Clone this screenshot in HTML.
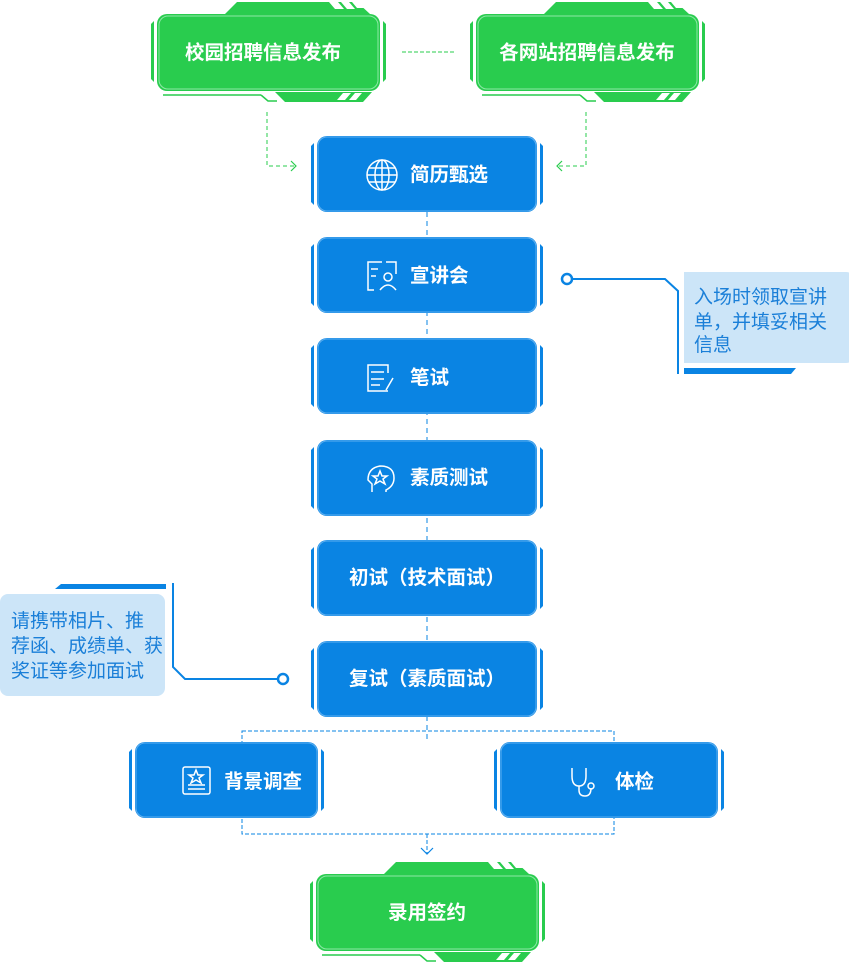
<!DOCTYPE html>
<html><head><meta charset="utf-8"><style>
html,body{margin:0;padding:0;background:#fff;}
svg{display:block;}
text{font-family:"Liberation Sans","Noto Sans CJK SC",sans-serif;}
.t{fill:#fff;font-size:19.5px;font-weight:bold;}
.c{fill:#1a7fd8;font-size:19px;}
</style></head><body>
<svg width="849" height="962" viewBox="0 0 849 962" xmlns="http://www.w3.org/2000/svg">
<defs>
<g id="gb">
 <polygon points="68,14 80,2 200,2 213,14" fill="#29cc4e"/>
 <polygon points="172,2 181,2 187,9 178,9" fill="#fff"/>
 <polygon points="184,2 192,2 198,9 190,9" fill="#fff"/>
 <polygon points="195,2 202,2 207,8 200,8" fill="#fff"/>
 <rect x="0" y="14" width="223" height="77" rx="10" fill="#29cc4e"/>
 <rect x="2" y="16" width="219" height="73" rx="9" fill="none" stroke="#8de8a6" stroke-width="1"/>
 <polygon points="-6,24 -3,21 -3,82 -6,79" fill="#29cc4e"/>
 <polygon points="229,24 226,21 226,82 229,79" fill="#29cc4e"/>
 <line x1="6" y1="95" x2="104" y2="95" stroke="#29cc4e" stroke-width="1.5"/>
 <polyline points="104,95 111,101 120,101" fill="none" stroke="#29cc4e" stroke-width="1.5"/>
 <polygon points="118,92 215,92 206,102 128,102" fill="#29cc4e"/>
 <polygon points="186,93 194,93 188,100 180,100" fill="#fff"/>
 <polygon points="198,93 205,93 199,100 192,100" fill="#fff"/>
</g>
<g id="bb">
 <rect x="0" y="0" width="220" height="76" rx="10" fill="#0a84e3"/>
 <rect x="1" y="1" width="218" height="74" rx="9" fill="none" stroke="#5fb0f0" stroke-width="1"/>
 <polygon points="-6,10 -3,7 -3,69 -6,66" fill="#0a84e3"/>
 <polygon points="226,10 223,7 223,69 226,66" fill="#0a84e3"/>
</g>
</defs>

<!-- connectors -->
<line x1="402" y1="52" x2="454" y2="52" stroke="#29cc4e" stroke-width="1" stroke-dasharray="4,2"/>
<polyline points="267,112 267,166 295,166" fill="none" stroke="#29cc4e" stroke-width="1" stroke-dasharray="4,3"/>
<polyline points="291,161 296,166 291,171" fill="none" stroke="#29cc4e" stroke-width="1.2"/>
<polyline points="586,112 586,166 558,166" fill="none" stroke="#29cc4e" stroke-width="1" stroke-dasharray="4,3"/>
<polyline points="562,161 557,166 562,171" fill="none" stroke="#29cc4e" stroke-width="1.2"/>
<line x1="427" y1="212" x2="427" y2="742" stroke="#0a84e3" stroke-width="1" stroke-dasharray="5,4"/>
<rect x="242" y="731" width="372" height="103" fill="none" stroke="#0a84e3" stroke-width="1" stroke-dasharray="4,2"/>
<line x1="427" y1="834" x2="427" y2="854" stroke="#0a84e3" stroke-width="1" stroke-dasharray="4,2"/>
<polyline points="421,848 427,854 433,848" fill="none" stroke="#0a84e3" stroke-width="1.2"/>

<!-- green top -->
<use href="#gb" transform="translate(157,0)"/>
<text class="t" x="263" y="59" text-anchor="middle">校园招聘信息发布</text>
<use href="#gb" transform="translate(476,0)"/>
<text class="t" x="587" y="59" text-anchor="middle">各网站招聘信息发布</text>

<!-- blue column -->
<use href="#bb" transform="translate(317,136)"/>
<use href="#bb" transform="translate(317,237)"/>
<use href="#bb" transform="translate(317,338)"/>
<use href="#bb" transform="translate(317,440)"/>
<use href="#bb" transform="translate(317,540)"/>
<use href="#bb" transform="translate(317,641)"/>

<!-- bottom row -->
<rect x="135" y="742" width="183" height="76" rx="10" fill="#0a84e3"/>
<rect x="136" y="743" width="181" height="74" rx="9" fill="none" stroke="#5fb0f0" stroke-width="1"/>
<polygon points="129,752 132,749 132,811 129,808" fill="#0a84e3"/>
<polygon points="324,752 321,749 321,811 324,808" fill="#0a84e3"/>
<rect x="500" y="742" width="218" height="76" rx="10" fill="#0a84e3"/>
<rect x="501" y="743" width="216" height="74" rx="9" fill="none" stroke="#5fb0f0" stroke-width="1"/>
<polygon points="494,752 497,749 497,811 494,808" fill="#0a84e3"/>
<polygon points="724,752 721,749 721,811 724,808" fill="#0a84e3"/>

<g fill="none" stroke="#fff" stroke-width="1.5">
 <circle cx="382" cy="175" r="15"/><ellipse cx="382" cy="175" rx="7" ry="15"/>
 <line x1="367" y1="175" x2="397" y2="175"/><line x1="382" y1="160" x2="382" y2="190"/>
 <line x1="369" y1="168" x2="395" y2="168"/><line x1="369" y1="182" x2="395" y2="182"/>
 <path d="M382 262 h-14 v28 h6 M386 262 h10 v12"/><line x1="371" y1="269" x2="378" y2="269"/><line x1="371" y1="276" x2="376" y2="276"/>
 <circle cx="388" cy="277" r="4"/><path d="M380 290 q8 -10 16 0"/>
 <path d="M388 391 h-20 v-26 h20 v8"/><line x1="371" y1="372" x2="384" y2="372"/><line x1="371" y1="379" x2="384" y2="379"/><line x1="371" y1="385" x2="380" y2="385"/><line x1="393" y1="378" x2="386" y2="390"/>
 <path d="M372 492 v-8 l-4 -4 q0 -12 12 -14 q14 0 14 12 q0 8 -8 12 v2"/>
 <polygon points="380,471 382,476 387,476 383,479 385,484 380,481 375,484 377,479 373,476 378,476"/>
 <rect x="183" y="767" width="27" height="27" rx="2"/><line x1="188" y1="785" x2="205" y2="785"/><line x1="188" y1="789" x2="205" y2="789"/>
 <polygon points="196,770 198,775 203,775 199,778 201,783 196,780 191,783 193,778 189,775 194,775"/>
 <path d="M572 768 v8 q0 10 7 10 q7 0 7 -10 v-8 M579 786 v4 q0 6 6 6 q6 0 6 -8"/><circle cx="591" cy="786" r="3"/>
</g>
<text class="t" x="410" y="181">简历甄选</text>
<text class="t" x="410" y="282">宣讲会</text>
<text class="t" x="410" y="384">笔试</text>
<text class="t" x="410" y="484">素质测试</text>
<text class="t" x="427" y="584" text-anchor="middle">初试（技术面试）</text>
<text class="t" x="427" y="685" text-anchor="middle">复试（素质面试）</text>
<text class="t" x="224" y="788">背景调查</text>
<text class="t" x="615" y="788">体检</text>

<!-- green bottom -->
<use href="#gb" transform="translate(316,860)"/>
<text class="t" x="427" y="919" text-anchor="middle">录用签约</text>

<!-- right callout -->
<rect x="684" y="272" width="170" height="91" rx="8" fill="#cce5f8"/>
<rect x="684" y="272" width="10" height="91" fill="#cce5f8"/>
<polygon points="684,368 796,368 791,374 684,374" fill="#0a84e3"/>
<polyline points="572,279 665,279 678,291 678,374" fill="none" stroke="#0a84e3" stroke-width="2"/>
<circle cx="567" cy="279" r="5" fill="#fff" stroke="#0a84e3" stroke-width="2.5"/>
<text class="c" x="694" y="303">入场时领取宣讲</text>
<text class="c" x="694" y="328">单，并填妥相关</text>
<text class="c" x="694" y="351">信息</text>

<!-- left callout -->
<rect x="0" y="594" width="165" height="102" rx="8" fill="#cce5f8"/>
<polygon points="55,589 61,584 166,584 166,589" fill="#0a84e3"/>
<polyline points="173,583 173,667 185,679 278,679" fill="none" stroke="#0a84e3" stroke-width="2"/>
<circle cx="283" cy="679" r="5" fill="#fff" stroke="#0a84e3" stroke-width="2.5"/>
<text class="c" x="11" y="627">请携带相片、推</text>
<text class="c" x="11" y="652">荐函、成绩单、获</text>
<text class="c" x="11" y="677">奖证等参加面试</text>
</svg>
</body></html>
